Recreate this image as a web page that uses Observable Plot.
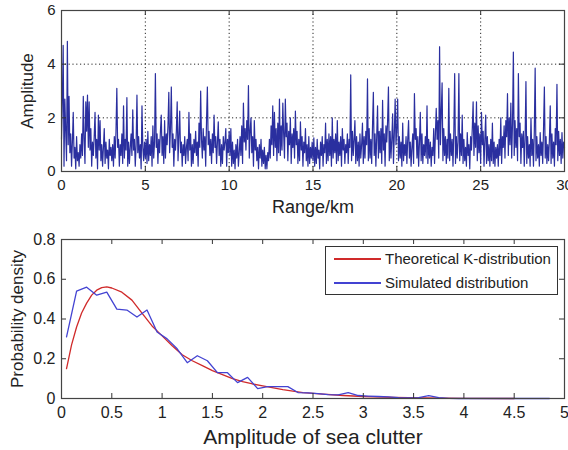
<!DOCTYPE html>
<html><head><meta charset="utf-8">
<script src="https://cdn.jsdelivr.net/npm/d3@7"></script>
<script src="https://cdn.jsdelivr.net/npm/@observablehq/plot@0.6"></script>
<style>
html,body{margin:0;padding:0;background:#fff;}
#wrap{position:relative;width:568px;height:450px;overflow:hidden;font-family:"Liberation Sans",Arial,Helvetica,sans-serif;}
#wrap svg{display:block;}
#legend{position:absolute;left:325px;top:246px;width:231px;height:47px;border:1px solid #333;background:#fff;font-size:15px;color:#222;}
.sw{position:absolute;left:8px;width:47px;height:2px;}
.lt{position:absolute;left:59px;line-height:18px;white-space:nowrap;}
</style>
</head><body>
<div id="wrap"></div>
<script>
// ---- Top chart: simulated sea clutter amplitude vs range ----
const rangeStep = 0.05; // km between samples
const amplitude = [
1.2,2.6,4.7,0.2,2.7,1.5,0.4,4.85,1.0,2.8,0.7,1.4,0.2,1.1,2.2,0.5,0.9,0.1,1.3,0.4,
0.7,0.2,1.0,0.5,1.4,0.6,2.8,1.2,0.3,2.6,1.5,2.85,0.9,2.6,0.8,1.6,0.2,1.1,0.6,1.3,
2.2,0.5,1.2,0.1,2.1,0.8,1.9,0.4,1.0,0.2,0.9,1.6,0.3,1.1,0.5,0.8,0.1,1.2,0.6,0.9,
0.4,1.0,0.2,1.3,0.5,1.5,3.1,0.9,1.2,0.2,1.0,0.6,1.4,0.3,2.45,0.5,1.2,0.8,2.75,0.2,
1.1,0.3,0.9,1.4,0.6,2.3,0.8,1.2,0.2,1.0,2.85,0.7,1.3,0.5,1.0,0.1,2.45,0.9,0.4,1.1,
0.5,1.2,0.3,1.5,0.4,1.0,0.6,1.3,0.2,1.7,0.5,1.1,3.65,0.9,1.4,0.3,1.2,0.7,1.5,2.1,
0.6,1.3,0.3,1.9,0.5,1.4,1.0,1.7,2.95,0.7,1.6,3.15,0.9,1.4,0.2,1.2,0.8,1.5,2.6,0.4,
1.3,2.25,0.7,1.1,0.2,1.0,0.6,1.3,0.3,0.9,1.2,0.4,2.2,0.8,1.4,0.2,1.0,0.3,1.2,0.7,
1.5,0.6,1.1,0.2,1.8,0.9,3.0,1.2,0.5,1.6,0.8,1.3,0.2,1.9,3.15,1.0,1.5,0.6,1.2,0.3,
1.4,0.7,2.1,0.9,1.3,0.3,1.1,1.85,0.6,1.2,0.2,1.0,0.3,1.3,0.8,1.1,1.6,0.2,1.2,0.7,
1.5,0.6,1.6,0.2,1.1,0.3,0.8,0.1,1.0,0.5,1.2,0.2,0.7,1.3,0.6,1.7,0.3,2.55,1.1,1.6,
0.8,1.9,1.2,3.2,0.5,1.5,2.0,0.7,1.3,0.2,1.9,0.8,1.2,0.4,0.9,0.1,1.0,0.5,1.2,0.2,
0.8,0.3,0.9,0.1,0.6,0.1,0.7,0.4,1.2,0.5,1.7,1.0,2.45,0.6,2.2,0.9,1.6,0.4,1.8,0.7,
2.7,0.6,1.7,0.8,2.55,1.4,0.5,2.7,1.3,1.8,0.4,1.5,1.0,2.0,0.3,1.4,0.9,1.6,0.5,2.25,
1.0,1.5,0.3,1.2,0.4,1.85,0.8,1.3,0.2,1.1,0.7,1.6,0.4,1.0,0.2,1.3,0.3,0.9,0.5,1.1,
0.4,1.25,0.2,0.9,0.3,1.2,0.5,0.8,0.1,1.1,0.6,1.3,0.2,1.0,0.7,1.8,0.3,1.2,0.4,1.4,
0.6,1.3,0.2,2.0,0.5,1.2,0.7,1.4,0.3,1.9,0.4,1.1,0.6,1.3,0.2,1.6,0.8,1.2,0.3,1.0,
0.7,1.4,0.3,1.2,0.9,3.6,0.4,1.5,0.6,1.2,1.9,0.3,1.3,0.4,1.1,0.2,1.4,0.5,1.0,1.8,
0.3,1.3,0.5,1.5,1.0,3.45,0.4,1.6,0.5,1.2,0.3,1.7,2.95,0.6,1.4,0.2,1.3,2.45,0.5,1.5,
0.7,1.6,0.3,2.65,0.8,1.4,0.2,1.7,1.1,1.9,3.15,0.4,1.5,0.5,1.2,2.15,0.3,1.4,2.7,1.0,
1.6,2.7,0.4,1.3,0.5,1.1,0.2,1.8,0.4,1.0,0.6,1.3,0.3,1.2,1.9,0.5,1.1,0.2,0.9,1.4,
0.3,2.9,1.2,1.6,0.5,1.3,0.2,1.1,2.2,0.4,1.4,0.3,1.0,0.6,1.3,0.5,2.45,0.3,1.2,0.5,
1.1,0.2,0.9,0.6,1.6,0.3,1.4,2.35,1.2,1.9,0.5,4.65,1.0,2.2,3.3,0.4,1.6,0.6,1.3,0.3,
1.2,0.5,3.1,0.4,1.4,0.6,1.2,0.2,1.5,3.65,0.3,1.3,0.5,1.1,3.65,0.4,1.4,0.6,2.1,0.3,
1.2,0.4,0.9,0.2,1.45,0.6,1.0,0.1,1.3,0.8,1.6,2.6,0.6,1.8,0.9,2.6,0.4,1.7,0.7,1.4,
0.3,2.2,1.0,1.5,0.2,1.2,2.1,0.3,1.3,0.4,1.0,0.2,1.2,0.4,1.8,0.3,1.1,0.2,0.9,0.5,
1.0,0.2,1.2,0.6,2.0,0.3,1.3,0.9,1.7,0.5,1.9,1.3,2.9,0.6,2.0,1.0,2.55,0.5,1.8,4.45,
0.6,1.9,0.9,1.6,0.4,3.65,1.3,1.8,0.3,1.4,0.9,1.5,0.2,1.2,3.35,0.3,1.3,0.5,1.0,0.2,
2.0,0.6,1.2,0.2,1.5,3.85,0.4,1.3,0.5,1.0,0.2,1.45,0.6,1.1,0.3,1.6,3.15,0.5,1.3,0.3,
1.0,0.4,1.2,2.45,0.3,1.4,0.5,1.1,0.2,1.6,1.0,3.25,0.4,1.5,0.6,1.2,0.3,1.45,0.5,1.1,
0.9
];
const rangeTicks = [0,5,10,15,20,25,30];
const rangeGrid = [5,10,15,20,25];
const ampTicks = [0,2,4,6];
const ampGrid = [2,4];

// ---- Bottom chart: probability density ----
const theoX = [0.05,0.1,0.15,0.2,0.25,0.3,0.35,0.4,0.45,0.5,0.6,0.7,0.8,0.9,1.0,1.1,1.2,1.3,1.4,1.5,1.6,1.7,1.8,1.9,2.0,2.2,2.4,2.6,2.8,3.0,3.3,3.6,4.0,4.5];
const theoY = [0.15,0.27,0.36,0.43,0.48,0.52,0.545,0.558,0.562,0.556,0.535,0.495,0.43,0.365,0.315,0.265,0.22,0.19,0.165,0.14,0.12,0.1,0.085,0.073,0.063,0.045,0.03,0.022,0.015,0.01,0.006,0.003,0.001,0];
const simX = [0.05,0.15,0.25,0.35,0.45,0.55,0.65,0.75,0.85,0.95,1.05,1.15,1.25,1.35,1.45,1.55,1.65,1.75,1.85,1.95,2.05,2.15,2.25,2.35,2.45,2.55,2.65,2.75,2.85,2.95,3.05,3.15,3.25,3.35,3.45,3.55,3.65,3.75,3.85,3.95,4.05,4.15,4.25,4.35,4.45,4.55,4.65,4.75,4.85];
const simY = [0.31,0.54,0.56,0.52,0.535,0.45,0.445,0.41,0.445,0.335,0.30,0.25,0.18,0.215,0.19,0.13,0.13,0.08,0.106,0.05,0.06,0.06,0.06,0.03,0.028,0.025,0.02,0.018,0.03,0.015,0.012,0.01,0.008,0.004,0.003,0.004,0.014,0.004,0.001,0,0,0,0,0,0,0,0,0,0];
const densXTicks = [0,0.5,1,1.5,2,2.5,3,3.5,4,4.5,5];
const densYTicks = [0,0.2,0.4,0.6,0.8];
const seriesNames = ["Theoretical K-distribution","Simulated distribution"];

const FONT = '"Liberation Sans", Arial, Helvetica, sans-serif';
const BLUE_TOP = "#2a2f9f";
const RED = "#d02a2a";
const BLUE = "#4343d2";
const seriesColors = [RED, BLUE];

const clutter = amplitude.map((v, i) => ({x: i * rangeStep, y: v}));
const theo = theoX.map((x, i) => ({x, y: theoY[i]}));
const sim = simX.map((x, i) => ({x, y: simY[i]}));

const W = 568, H = 225;
const top1 = {t: 10, b: 54, l: 61, r: 4};
const fw = W - top1.l - top1.r;
const fh1 = H - top1.t - top1.b;

const topChart = Plot.plot({
  width: W, height: H,
  marginLeft: top1.l, marginRight: top1.r, marginTop: top1.t, marginBottom: top1.b,
  style: {fontFamily: FONT, fontSize: "15px", color: "#222", background: "#fff"},
  x: {domain: [0, 30]},
  y: {domain: [0, 6]},
  marks: [
    Plot.gridX(rangeGrid, {stroke: "#000", strokeOpacity: 0.85, strokeDasharray: "1.2,2.6"}),
    Plot.gridY(ampGrid, {stroke: "#000", strokeOpacity: 0.85, strokeDasharray: "1.2,2.6"}),
    Plot.line(clutter, {x: "x", y: "y", stroke: BLUE_TOP, strokeWidth: 1.2}),
    Plot.tickX(rangeTicks, {x: d => d, insetTop: fh1 - 5, stroke: "#333"}),
    Plot.tickX(rangeTicks, {x: d => d, insetBottom: fh1 - 5, stroke: "#333"}),
    Plot.tickY(ampTicks, {y: d => d, insetRight: fw - 5, stroke: "#333"}),
    Plot.tickY(ampTicks, {y: d => d, insetLeft: fw - 5, stroke: "#333"}),
    Plot.frame({stroke: "#444", strokeWidth: 1.2}),
    Plot.axisX(rangeTicks, {tickSize: 0, tickPadding: 8, label: null}),
    Plot.axisY(ampTicks, {tickSize: 0, tickPadding: 6, label: null}),
    Plot.text(["Range/km"], {text: d => d, frameAnchor: "bottom", textAnchor: "middle", lineAnchor: "middle", dy: 36, fontSize: 18, fill: "#222"}),
    Plot.text(["Amplitude"], {text: d => d, frameAnchor: "left", textAnchor: "middle", lineAnchor: "middle", dx: -34, rotate: -90, fontSize: 17, fill: "#222"})
  ]
});

const bot = {t: 14, b: 52, l: 61, r: 4};
const fh2 = H - bot.t - bot.b;
const botChart = Plot.plot({
  width: W, height: H,
  marginLeft: bot.l, marginRight: bot.r, marginTop: bot.t, marginBottom: bot.b,
  style: {fontFamily: FONT, fontSize: "16px", color: "#222", background: "#fff"},
  x: {domain: [0, 5]},
  y: {domain: [0, 0.8]},
  marks: [
    Plot.line(theo, {x: "x", y: "y", stroke: RED, strokeWidth: 1.3}),
    Plot.line(sim, {x: "x", y: "y", stroke: BLUE, strokeWidth: 1.3}),
    Plot.tickX(densXTicks, {x: d => d, insetTop: fh2 - 5, stroke: "#333"}),
    Plot.tickX(densXTicks, {x: d => d, insetBottom: fh2 - 5, stroke: "#333"}),
    Plot.tickY(densYTicks, {y: d => d, insetRight: fw - 5, stroke: "#333"}),
    Plot.tickY(densYTicks, {y: d => d, insetLeft: fw - 5, stroke: "#333"}),
    Plot.frame({stroke: "#444", strokeWidth: 1.2}),
    Plot.axisX(densXTicks, {tickSize: 0, tickPadding: 8, label: null, tickFormat: d => String(d)}),
    Plot.axisY(densYTicks, {tickSize: 0, tickPadding: 6, label: null, tickFormat: d => String(d)}),
    Plot.text(["Amplitude of sea clutter"], {text: d => d, frameAnchor: "bottom", textAnchor: "middle", lineAnchor: "middle", dy: 39, fontSize: 21, fill: "#222"}),
    Plot.text(["Probability density"], {text: d => d, frameAnchor: "left", textAnchor: "middle", lineAnchor: "middle", dx: -44, rotate: -90, fontSize: 17, fill: "#222"})
  ]
});

const wrap = document.getElementById("wrap");
wrap.appendChild(topChart);
wrap.appendChild(botChart);

const legend = document.createElement("div");
legend.id = "legend";
seriesNames.forEach((name, i) => {
  const sw = document.createElement("div");
  sw.className = "sw";
  sw.style.top = (11 + i * 24) + "px";
  sw.style.background = seriesColors[i];
  legend.appendChild(sw);
  const t = document.createElement("div");
  t.className = "lt";
  t.style.top = (3 + i * 24) + "px";
  t.textContent = name;
  legend.appendChild(t);
});
wrap.appendChild(legend);
</script>
</body></html>
